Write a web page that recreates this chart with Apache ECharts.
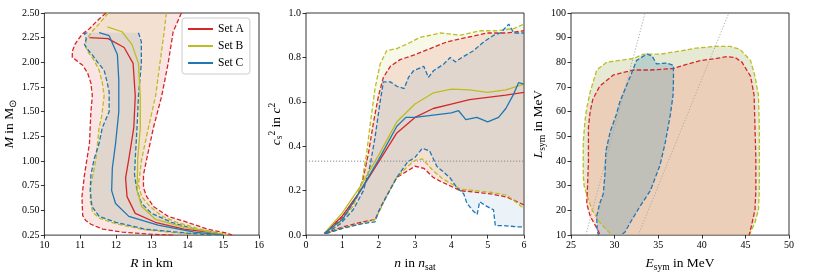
<!DOCTYPE html>
<html><head><meta charset="utf-8">
<script src="https://cdn.jsdelivr.net/npm/echarts@6/dist/echarts.min.js"></script>
<style>html,body{margin:0;padding:0;background:#fff}#c{width:830px;height:277px}</style>
</head><body><div id="c"></div>
<script>
// ---------- Panel 1: mass-radius (R in km, M in Msun) ----------
const mrA_lo = [[11.72,2.5],[11.53,2.44],[11.39,2.39],[11.26,2.34],[11.07,2.29],[10.94,2.23],[10.85,2.18],[10.78,2.11],[10.78,2.05],[10.89,2.02],[11.07,1.97],[11.21,1.89],[11.30,1.79],[11.34,1.66],[11.3,1.5],[11.26,1.18],[11.12,0.86],[11.05,0.64],[11.07,0.45],[11.15,0.40],[11.3,0.36],[11.63,0.31],[12.18,0.28],[12.9,0.26],[13.6,0.25]];
const mrA_hi = [[13.83,2.5],[13.6,2.31],[13.46,1.99],[13.28,1.66],[13.05,1.34],[12.86,1.02],[12.77,0.86],[12.77,0.73],[12.86,0.64],[13.05,0.54],[13.46,0.44],[14.0,0.38],[14.56,0.31],[15.1,0.27],[15.25,0.25]];
const mrB_lo = [[11.78,2.5],[11.53,2.39],[11.35,2.32],[11.17,2.23],[11.15,2.16],[11.21,2.11],[11.39,2.02],[11.53,1.92],[11.62,1.79],[11.67,1.66],[11.6,1.45],[11.53,1.34],[11.44,1.02],[11.3,0.75],[11.28,0.6],[11.35,0.48],[11.55,0.42],[11.95,0.37],[12.7,0.31],[13.6,0.275],[14.6,0.255],[15.0,0.25]];
const mrB_hi = [[13.41,2.5],[13.35,2.31],[13.23,1.99],[13.11,1.66],[12.91,1.34],[12.72,1.02],[12.63,0.76],[12.72,0.64],[12.95,0.54],[13.3,0.44],[13.7,0.38],[14.36,0.31],[14.9,0.27],[15.1,0.25]];
const mrC_lo = [[11.2,2.30],[11.12,2.29],[11.17,2.24],[11.12,2.18],[11.21,2.13],[11.35,2.07],[11.49,2.0],[11.67,1.92],[11.76,1.79],[11.81,1.70],[11.81,1.5],[11.62,1.34],[11.53,1.18],[11.39,1.02],[11.3,0.86],[11.28,0.70],[11.33,0.54],[11.53,0.44],[12.0,0.38],[12.81,0.31],[14.0,0.27],[14.7,0.25]];
const mrC_hi = [[12.63,2.30],[12.71,2.21],[12.71,1.99],[12.63,1.66],[12.59,1.34],[12.54,1.02],[12.52,0.86],[12.59,0.70],[12.72,0.57],[13.0,0.47],[13.55,0.38],[14.2,0.31],[14.8,0.27],[15.0,0.25]];
const mrA_med = [[11.26,2.25],[11.78,2.24],[12.23,2.15],[12.48,1.99],[12.54,1.66],[12.5,1.34],[12.36,1.02],[12.27,0.83],[12.31,0.64],[12.54,0.47],[13.1,0.38],[13.9,0.31],[14.8,0.27],[15.0,0.25]];
const mrB_med = [[11.76,2.36],[12.17,2.31],[12.45,2.18],[12.63,1.99],[12.68,1.66],[12.68,1.34],[12.61,1.02],[12.59,0.70],[12.72,0.54],[13.1,0.41],[13.9,0.33],[14.8,0.27],[15.1,0.25]];
const mrC_med = [[11.53,2.30],[11.81,2.27],[12.04,2.08],[12.08,1.82],[12.08,1.5],[11.99,1.18],[11.9,0.93],[11.88,0.70],[11.99,0.57],[12.36,0.44],[13.18,0.35],[14.19,0.28],[15.0,0.25]];

// ---------- Panel 2: speed of sound (n in n_sat, cs^2) ----------
const csA_hi = [[0.52,0.007],[0.85,0.057],[1.12,0.1],[1.4,0.17],[1.58,0.26],[1.72,0.37],[1.86,0.51],[2.0,0.63],[2.13,0.71],[2.32,0.76],[2.59,0.79],[2.96,0.81],[3.42,0.84],[3.88,0.87],[4.43,0.89],[4.98,0.91],[5.53,0.91],[6.0,0.92]];
const csA_lo = [[0.52,0.007],[1.0,0.036],[1.5,0.057],[1.9,0.07],[2.1,0.14],[2.5,0.26],[3.0,0.31],[3.25,0.30],[3.5,0.26],[3.69,0.243],[4.25,0.2],[5.07,0.186],[5.53,0.171],[6.0,0.136]];
const csB_hi = [[0.57,0.007],[0.94,0.057],[1.3,0.13],[1.53,0.23],[1.67,0.37],[1.76,0.49],[1.9,0.66],[2.04,0.77],[2.22,0.83],[2.5,0.84],[2.78,0.86],[3.14,0.89],[3.7,0.91],[4.25,0.90],[4.8,0.92],[5.26,0.92],[5.72,0.93],[6.0,0.95]];
const csB_lo = [[0.57,0.007],[1.0,0.03],[1.5,0.05],[1.9,0.07],[2.0,0.1],[2.2,0.17],[2.5,0.26],[2.8,0.31],[3.0,0.336],[3.2,0.343],[3.5,0.29],[3.75,0.255],[4.25,0.207],[5.07,0.193],[5.53,0.18],[6.0,0.12]];
const csC_hi = [[0.55,0.007],[0.94,0.05],[1.3,0.114],[1.58,0.2],[1.76,0.31],[1.9,0.44],[2.04,0.6],[2.13,0.69],[2.32,0.69],[2.5,0.67],[2.7,0.66],[2.82,0.71],[2.96,0.74],[3.24,0.76],[3.37,0.71],[3.51,0.74],[3.79,0.77],[3.97,0.8],[4.11,0.78],[4.29,0.8],[4.61,0.83],[4.89,0.87],[5.17,0.9],[5.35,0.91],[5.58,0.95],[5.72,0.91],[6.0,0.91]];
const csC_lo = [[0.55,0.007],[1.0,0.03],[1.5,0.05],[1.9,0.06],[2.0,0.107],[2.2,0.17],[2.5,0.26],[2.8,0.33],[3.0,0.35],[3.2,0.39],[3.4,0.38],[3.6,0.31],[3.97,0.257],[4.15,0.214],[4.34,0.186],[4.43,0.143],[4.61,0.107],[4.71,0.093],[4.78,0.15],[4.98,0.129],[5.16,0.114],[5.21,0.043],[5.44,0.043],[5.81,0.037],[6.0,0.037]];
const csA_med = [[0.5,0.007],[1.0,0.086],[1.5,0.2],[2.0,0.33],[2.5,0.46],[3.0,0.53],[3.5,0.57],[4.0,0.59],[4.5,0.61],[5.0,0.62],[5.5,0.63],[6.0,0.643]];
const csB_med = [[0.5,0.007],[1.0,0.1],[1.5,0.22],[2.0,0.36],[2.5,0.51],[3.0,0.59],[3.5,0.64],[4.0,0.657],[4.5,0.654],[5.0,0.643],[5.5,0.654],[6.0,0.68]];
const csC_med = [[0.5,0.007],[1.0,0.07],[1.5,0.2],[2.0,0.34],[2.5,0.49],[2.75,0.53],[3.0,0.53],[3.5,0.54],[4.0,0.55],[4.2,0.56],[4.4,0.52],[4.7,0.53],[5.0,0.51],[5.3,0.53],[5.5,0.57],[5.7,0.63],[5.85,0.686],[6.0,0.68]];
const csConformal = [[0,0.333],[6,0.333]];

// ---------- Panel 3: symmetry energy contours (E_sym, L_sym in MeV) ----------
const symA = [[28.6,8],[28.1,11.9],[27.2,17.7],[26.8,22.9],[26.9,30],[27.0,40],[27.0,53.7],[27.2,60.1],[27.5,65],[28.3,70.4],[29.86,74.9],[32.15,76.9],[34.1,76.9],[36.7,77.5],[37.9,78.8],[39.8,80.7],[41.7,81.6],[42.9,82.3],[43.8,82],[44.6,80.1],[45.6,74.3],[46.0,66.6],[46.1,53.7],[46.2,40.9],[46.2,28.0],[46.1,20.3],[45.7,13.9],[45.3,8]];
const symB = [[29.7,8],[29.5,10.6],[28.3,15.1],[27.4,20.3],[26.9,25.4],[26.5,30],[26.4,34.4],[26.4,47.3],[26.6,56.3],[26.8,61.4],[27.2,68],[27.95,76.9],[29.1,80.1],[31.0,81],[32.2,81.6],[33.3,83.3],[35.2,83.3],[37.5,84.6],[39.4,85.8],[41.7,86.5],[43.3,86.5],[44.4,85.2],[45.6,80.7],[46.1,74.3],[46.5,66.6],[46.6,53.7],[46.6,40.9],[46.6,28.0],[46.5,20.3],[46.1,15.1],[45.6,11.3],[45.3,8]];
const symC = [[30.6,8],[30.8,10.1],[31.2,11.3],[31.8,15.1],[32.9,21.6],[34.1,28],[35.2,38.3],[35.8,47.3],[36.4,58.9],[36.7,66.6],[36.75,73],[36.75,78.8],[36.0,79.7],[34.8,79.4],[34.3,82.6],[33.7,83.4],[32.5,80.7],[31.8,74.3],[30.6,64],[30.2,58.9],[29.5,52],[29.0,44],[28.9,35],[28.7,26.7],[28.3,22.9],[27.95,17.7],[28.0,12],[28.3,8]];
const symLine1 = [[26.7,10],[33.5,100]];
const symLine2 = [[32.7,10],[43.1,100]];

const setNames = ['Set A','Set B','Set C'];

const RED='#d62728', YEL='#bcbd22', BLU='#1f77b4';
const FONT='Liberation Serif';
const DASH=[4.5,2.2];

function poly(ax, pts, fill){
  return {type:'custom', xAxisIndex:ax, yAxisIndex:ax, coordinateSystem:'cartesian2d',
    silent:true, clip:true, z:1, data:[pts[0]],
    renderItem:function(params, api){
      return {type:'polygon', shape:{points: pts.map(p=>api.coord(p))}, style:{fill:fill}};
    }};
}
function line(ax, data, color, dashed, name, w){
  const s = {type:'line', xAxisIndex:ax, yAxisIndex:ax, data:data, showSymbol:false, symbol:'none',
    silent:true, clip:true, z:3,
    lineStyle:{color:color, width:w||1.3, type: dashed===true?DASH:(dashed||'solid')}, itemStyle:{color:color}};
  if(name) s.name=name;
  return s;
}
function band(lo, hi){ return lo.concat(hi.slice().reverse()); }

const rich = {
  i:{fontStyle:'italic', fontFamily:FONT, fontSize:13.5, lineHeight:17},
  sub:{fontFamily:FONT, fontSize:9.5, lineHeight:9, verticalAlign:'bottom'},
  sup:{fontFamily:FONT, fontSize:9.5, lineHeight:9, verticalAlign:'top'}
};
const nameStyle = {fontFamily:FONT, fontSize:13.5, color:'#000', lineHeight:17, rich:rich};

function xAx(i, min, max, interval, name){
  return {gridIndex:i, type:'value', min:min, max:max, interval:interval, name:name,
    nameLocation:'middle', nameGap:11, nameTextStyle:nameStyle,
    axisLine:{show:false}, splitLine:{show:false},
    axisTick:{show:true, length:3.5, lineStyle:{color:'#000', width:0.8}},
    axisLabel:{fontFamily:FONT, fontSize:10, color:'#000', margin:5, showMinLabel:true, showMaxLabel:true}};
}
function yAx(i, min, max, interval, name, dec, gap){
  return {gridIndex:i, type:'value', min:min, max:max, interval:interval, name:name,
    nameLocation:'middle', nameGap:gap, nameRotate:90, nameTextStyle:nameStyle,
    axisLine:{show:false}, splitLine:{show:false},
    axisTick:{show:true, length:3.5, lineStyle:{color:'#000', width:0.8}},
    axisLabel:{fontFamily:FONT, fontSize:10, color:'#000', margin:5, showMinLabel:true, showMaxLabel:true,
      formatter: v => dec===null ? String(v) : v.toFixed(dec)}};
}

// band fills (left and middle panels)
const fa = 'rgba(214,39,40,0.12)', fb='rgba(188,189,34,0.10)', fc='rgba(31,119,180,0.09)';
// contour fills (right panel)
const ga = 'rgba(253,150,121,0.30)', gb='rgba(184,192,129,0.35)', gc='rgba(90,155,184,0.30)';

const series = [
  poly(0, band(mrA_lo, mrA_hi), fa), poly(0, band(mrB_lo, mrB_hi), fb), poly(0, band(mrC_lo, mrC_hi), fc),
  line(0, mrA_lo, RED, true), line(0, mrA_hi, RED, true),
  line(0, mrB_lo, YEL, true), line(0, mrB_hi, YEL, true),
  line(0, mrC_lo, BLU, true), line(0, mrC_hi, BLU, true),
  line(0, mrA_med, RED, false, setNames[0]), line(0, mrB_med, YEL, false, setNames[1]), line(0, mrC_med, BLU, false, setNames[2]),

  poly(1, band(csA_lo, csA_hi), fa), poly(1, band(csB_lo, csB_hi), fb), poly(1, band(csC_lo, csC_hi), fc),
  line(1, csConformal, '#888', [1.2,1.8], null, 1),
  line(1, csA_lo, RED, true), line(1, csA_hi, RED, true),
  line(1, csB_lo, YEL, true), line(1, csB_hi, YEL, true),
  line(1, csC_lo, BLU, true), line(1, csC_hi, BLU, true),
  line(1, csA_med, RED), line(1, csB_med, YEL), line(1, csC_med, BLU),

  poly(2, symB, gb), poly(2, symA, ga), poly(2, symC, gc),
  line(2, symLine1, '#aaa', [1.2,1.8], null, 1), line(2, symLine2, '#aaa', [1.2,1.8], null, 1),
  line(2, symB, YEL, true), line(2, symA, RED, true), line(2, symC, BLU, true)
];

const chart = echarts.init(document.getElementById('c'), null, {renderer:'canvas'});
chart.setOption({
  animation:false,
  backgroundColor:'#fff',
  grid:[
    {left:41, top:13, width:218, height:234, show:true, borderColor:'#000', borderWidth:0.8, backgroundColor:'transparent'},
    {left:306, top:13, width:218, height:234, show:true, borderColor:'#000', borderWidth:0.8, backgroundColor:'transparent'},
    {left:571, top:13, width:218, height:234, show:true, borderColor:'#000', borderWidth:0.8, backgroundColor:'transparent'}
  ],
  xAxis:[
    xAx(0, 10, 16, 1, '{i|R} in km'),
    xAx(1, 0, 6, 1, '{i|n} in {i|n}{sub|sat}'),
    xAx(2, 25, 50, 5, '{i|E}{sub|sym} in MeV')
  ],
  yAxis:[
    yAx(0, 0.25, 2.5, 0.25, '{i|M} in M{sub|⊙}', 2, 26),
    yAx(1, 0, 1, 0.2, '{i|c}{sub|s}{sup|2} in {i|c}{sup|2}', 1, 15),
    yAx(2, 10, 100, 10, '{i|L}{sub|sym} in MeV', null, 21)
  ],
  legend:{
    data:setNames, left:182, top:18, orient:'vertical', icon:'rect', itemWidth:25, itemHeight:2, itemGap:5,
    padding:[5,6,5,6], backgroundColor:'rgba(255,255,255,0.85)', borderColor:'#ccc', borderWidth:1, borderRadius:3,
    textStyle:{fontFamily:FONT, fontSize:11.5, color:'#000'}, selectedMode:false
  },
  series:series
});
</script></body></html>
